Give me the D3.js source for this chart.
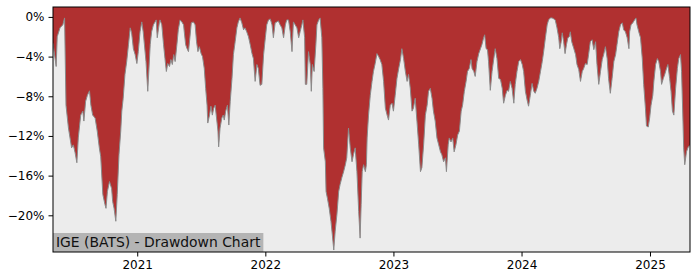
<!DOCTYPE html>
<html>
<head>
<meta charset="utf-8">
<script src="https://cdn.jsdelivr.net/npm/d3@7"></script>
<style>
body { margin: 0; background: #fff; }
text { font-family: "DejaVu Sans", sans-serif; }
</style>
</head>
<body>
<script>
var svgWidth = 700;
var svgHeight = 280;
var margin = {top: 7, right: 10, bottom: 28, left: 53};

// days counted from the first point of the series
var startDate = "2020-05-06";
var dayNums = [
    0,9,12,20,28,33,37,44,53,58,63,68,72,79,85,88,93,98,104,108,113,120,126,132,136,142,148,151,155,161,
    167,170,174,179,183,188,193,196,200,205,210,215,220,224,229,234,239,243,248,253,257,265,270,277,281,286,294,297,303,
    305,310,315,319,323,327,332,336,340,344,348,353,357,362,367,372,374,378,382,386,390,394,400,405,409,413,417,422,426,431,
    435,439,441,446,450,454,458,462,466,470,472,476,481,485,488,492,497,501,505,510,514,519,524,528,533,538,543,547,552,557,
    562,567,571,576,581,585,590,
    595,600,605,609,614,619,624,628,633,638,642,647,652,657,662,666,671,676,681,685,690,695,700,704,709,712,717,719,723,728,
    733,736,739,744,749,752,757,761,766,769,771,776,778,782,787,792,796,800,804,809,814,818,823,828,833,837,842,847,852,856,
    861,866,871,875,878,881,885,890,
    893,895,899,904,909,913,918,923,928,932,937,942,947,952,956,961,966,970,975,980,985,990,994,999,1004,1009,1013,1018,1023,1027,
    1032,1037,1042,1047,1051,1056,1061,1066,1070,1075,1080,1084,1089,1094,1099,1104,1108,1113,1118,1121,1126,1129,1134,1139,1143,1148,
    1153,1158,1163,1167,1172,1177,1181,1186,1191,
    1194,1199,1203,1208,1213,1218,1222,1227,1230,1234,1238,1241,1246,1251,1256,1260,1265,1270,1275,1280,1284,1289,1294,1298,1303,1308,
    1313,1317,1322,1327,1332,1337,1341,1346,1351,1355,1360,1365,1370,1374,1379,1384,1389,1394,1398,1403,1408,1412,1417,1422,1427,1431,
    1436,1441,1444,1448,1451,1455,1459,1463,1467,1471,1474,1478,1484,1489,1493,1498,1503,
    1508,1512,1517,1522,1526,1531,1536,1541,1546,1550,1555,1560,1565,1569,1574,1579,1583,1588,1593,1598,1603,1607,1612,1617,1622,1626,
    1631,1636,1641,1643,1647,1652,1657,1661,1664,1669,1674,1679,1683,1688,1691,1696,1700,1704,1709,1712,1717,1722,1726,1731,1734,1739,
    1743,1748,1752,1757,1761,1765,1769,1774,1779,1783,1788,1791,1795,1797,1800,1805,1809,1815
];
// drawdown in percent
var drawdown = [
    -2.65,-5.0,-2.0,-1.1,-0.8,-0.1,-8.9,-11.2,-13.2,-12.9,-13.7,-14.7,-12.2,-9.9,-9.5,-10.5,-8.5,-7.9,-7.45,-8.9,-9.9,-10.2,-11.5,-13.2,-14.1,-17.9,-18.9,-19.3,-17.6,-16.6,
    -17.3,-18.6,-19.3,-20.6,-17.9,-13.9,-11.5,-9.5,-8.2,-5.8,-4.5,-2.8,-1.1,-1.6,-3.2,-3.8,-4.7,-3.5,-1.5,-0.5,-1.5,-4.5,-7.5,-2.8,-1.5,-0.8,-0.3,-2.1,-0.6,
    -0.3,-0.8,-2.8,-4.2,-5.5,-4.7,-5.0,-4.3,-4.8,-3.8,-4.5,-2.8,-1.3,-0.3,-0.5,-0.8,-1.5,-2.8,-3.2,-3.5,-2.1,-0.6,-0.5,-0.8,-2.5,-3.5,-3.0,-3.7,-4.0,-5.2,
    -7.2,-8.9,-10.7,-9.9,-9.0,-9.9,-9.2,-8.9,-10.2,-11.5,-13.1,-11.2,-10.2,-9.9,-10.4,-9.5,-8.9,-10.9,-8.5,-6.2,-3.8,-2.5,-1.1,-0.5,-0.1,-0.6,-1.3,-1.1,-1.5,-2.0,
    -2.8,-3.7,-4.2,-6.5,-4.8,-5.2,-6.9,
    -6.8,-3.8,-2.1,-0.8,-0.3,-0.2,-0.8,-2.1,-0.6,-0.5,-0.4,-0.8,-1.1,-2.1,-0.8,-0.3,-0.3,-1.5,-3.5,-0.5,-0.8,-1.1,-2.1,-1.5,-0.8,-0.3,-2.1,-6.8,-6.8,-3.5,
    -4.8,-7.5,-4.8,-5.5,-2.8,-0.8,-0.3,-0.1,-2.1,-7.2,-13.2,-14.6,-17.6,-18.3,-19.3,-20.6,-22.0,-23.5,-21.6,-19.9,-17.6,-16.9,-16.2,-15.6,-14.9,-14.2,-11.2,-13.2,-14.6,-13.9,
    -13.2,-15.6,-19.6,-22.3,-18.9,-15.6,-14.9,-15.6,
    -14.9,-12.2,-9.9,-7.9,-6.5,-5.5,-4.7,-3.7,-4.0,-4.3,-4.8,-6.5,-9.2,-9.9,-10.4,-8.9,-8.7,-9.5,-7.9,-6.2,-5.2,-4.3,-3.2,-4.2,-5.5,-6.5,-5.8,-7.2,-9.5,-9.2,
    -8.2,-10.5,-12.9,-15.6,-15.2,-12.9,-9.9,-8.9,-7.5,-7.2,-8.2,-9.5,-10.5,-12.2,-12.9,-13.6,-13.9,-14.6,-14.2,-15.6,-12.9,-12.2,-12.6,-12.2,-13.6,-12.9,
    -11.9,-11.5,-9.5,-8.9,-7.5,-6.5,-5.5,-5.2,-4.3,
    -5.2,-5.5,-6.0,-4.5,-3.7,-3.2,-2.8,-2.1,-1.8,-3.2,-3.3,-4.5,-7.4,-5.5,-4.2,-3.2,-4.2,-6.2,-6.3,-7.2,-8.7,-7.9,-7.4,-7.5,-6.5,-7.2,
    -8.7,-6.8,-5.5,-4.5,-4.3,-4.8,-5.5,-7.5,-8.4,-9.0,-7.9,-6.7,-7.5,-7.7,-7.2,-6.5,-5.5,-4.5,-3.5,-2.1,-0.8,-0.3,-0.1,-0.1,-0.2,-0.3,
    -1.1,-2.1,-3.2,-2.5,-1.6,-2.5,-3.7,-2.8,-2.1,-2.0,-1.5,-2.5,-3.2,-3.8,-4.8,-5.3,-6.5,
    -5.5,-5.2,-4.7,-4.8,-3.8,-2.5,-2.3,-3.3,-2.5,-4.8,-6.8,-5.5,-4.3,-3.8,-3.0,-4.2,-6.2,-7.7,-6.2,-4.5,-3.8,-2.8,-1.5,-0.8,-0.6,-1.3,
    -1.5,-2.1,-3.2,-1.5,-0.8,-0.6,-0.3,-0.1,-0.8,-1.5,-2.1,-4.2,-6.8,-9.2,-11.0,-11.1,-10.2,-8.9,-7.9,-6.5,-4.8,-4.2,-4.5,-5.5,-6.8,-6.2,
    -5.8,-5.2,-4.8,-6.2,-7.5,-9.5,-9.9,-7.2,-5.2,-4.2,-3.8,-5.5,-10.5,-13.2,-14.9,-13.6,-13.2,-12.9
];
var yTicks = [0, -4, -8, -12, -16, -20];
var xTickYears = [2021, 2022, 2023, 2024, 2025];
var chartTitle = "IGE (BATS) - Drawdown Chart";

var t0 = d3.timeParse("%Y-%m-%d")(startDate);
var points = dayNums.map(function (n, i) {
    return {date: d3.timeDay.offset(t0, n), value: drawdown[i]};
});

var svg = d3.select("body")
    .append("svg")
    .attr("width", svgWidth)
    .attr("height", svgHeight);

var x = d3.scaleTime()
    .domain(d3.extent(points, function (d) { return d.date; }))
    .range([margin.left, svgWidth - margin.right]);

var y = d3.scaleLinear()
    .domain([-23.7, 1.0])
    .range([svgHeight - margin.bottom, margin.top]);

var plotW = svgWidth - margin.left - margin.right;
var plotH = svgHeight - margin.top - margin.bottom;

svg.append("clipPath").attr("id", "plot")
    .append("rect")
    .attr("x", margin.left).attr("y", margin.top)
    .attr("width", plotW).attr("height", plotH);

svg.append("rect")
    .attr("x", margin.left).attr("y", margin.top)
    .attr("width", plotW).attr("height", plotH)
    .attr("fill", "#ececec");

var area = d3.area()
    .x(function (d) { return x(d.date); })
    .y0(margin.top)
    .y1(function (d) { return y(d.value); });

var line = d3.line()
    .x(function (d) { return x(d.date); })
    .y(function (d) { return y(d.value); });

var g = svg.append("g").attr("clip-path", "url(#plot)");

g.append("path")
    .datum(points)
    .attr("d", area)
    .attr("fill", "#b03030");

g.append("path")
    .datum(points)
    .attr("d", line)
    .attr("fill", "none")
    .attr("stroke", "#8a8a8a")
    .attr("stroke-width", 1);

// title box in the lower left corner
var label = svg.append("g");
var labelText = label.append("text")
    .attr("x", margin.left + 3)
    .attr("y", svgHeight - margin.bottom - 5)
    .attr("font-size", "13.9px")
    .attr("fill", "#111")
    .text(chartTitle);
var tw = labelText.node().getComputedTextLength();
label.insert("rect", "text")
    .attr("x", margin.left)
    .attr("y", svgHeight - margin.bottom - 19)
    .attr("width", tw + 6)
    .attr("height", 19)
    .attr("fill", "#b4b4b4");

var yAxis = d3.axisLeft(y)
    .tickValues(yTicks)
    .tickSize(4.5)
    .tickPadding(4)
    .tickFormat(function (d) { return (d < 0 ? "\u2212" : "") + Math.abs(d) + "%"; });

var xAxis = d3.axisBottom(x)
    .tickValues(xTickYears.map(function (yr) { return new Date(yr, 0, 1); }))
    .tickSize(4.5)
    .tickPadding(4)
    .tickFormat(d3.timeFormat("%Y"));

svg.append("g")
    .attr("transform", "translate(" + margin.left + ",0)")
    .call(yAxis)
    .call(function (a) { a.select(".domain").remove(); })
    .selectAll("text")
    .attr("font-family", "DejaVu Sans")
    .attr("font-size", "12px")
    .attr("fill", "#000");

svg.append("g")
    .attr("transform", "translate(0," + (svgHeight - margin.bottom) + ")")
    .call(xAxis)
    .call(function (a) { a.select(".domain").remove(); })
    .selectAll("text")
    .attr("font-family", "DejaVu Sans")
    .attr("font-size", "12px")
    .attr("fill", "#000");

svg.append("rect")
    .attr("x", margin.left).attr("y", margin.top)
    .attr("width", plotW).attr("height", plotH)
    .attr("fill", "none")
    .attr("stroke", "#000")
    .attr("stroke-width", 1);
</script>
</body>
</html>
